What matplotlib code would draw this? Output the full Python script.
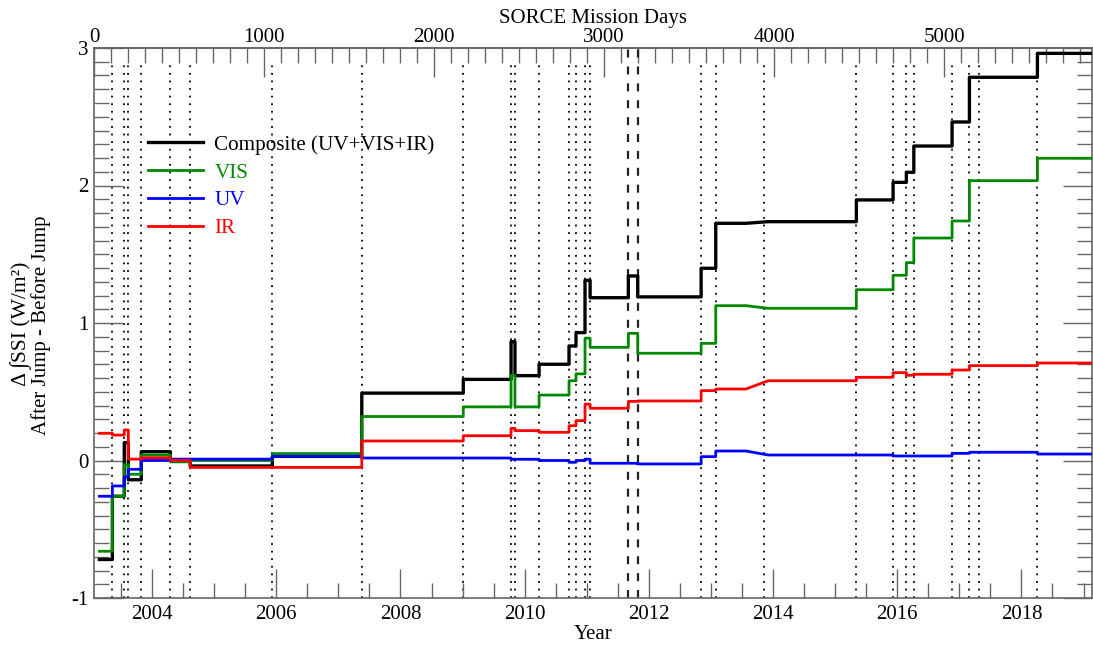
import numpy as np
import matplotlib
matplotlib.use("Agg")
import matplotlib.pyplot as plt
from matplotlib.ticker import MultipleLocator, FixedLocator

plt.rcParams['font.family'] = ['Liberation Serif', 'DejaVu Serif']
plt.rcParams['axes.unicode_minus'] = False

# SORCE mission day 0 expressed as a decimal year
day0_year = 2003.065

# days at which the series change (start of each plateau)
step_days = [32, 108, 178, 202, 278, 449, 566, 1049, 1575, 2172, 2453, 2476, 2618,
             2794, 2835, 2888, 2918, 3143, 3198, 3571, 3657, 3943, 4484, 4700, 4778,
             4822, 5047, 5149, 5204, 5549]
end_day = 5880
# a few changes are gradual rather than sudden: (start, end) of the ramp
ramp_days = {3943: (3835, 3965)}

composite = [-0.72, -0.26, 0.13, -0.14, 0.064, 0.0, -0.04, 0.03, 0.49, 0.59, 0.864, 0.617,
             0.70, 0.833, 0.93, 1.31, 1.184, 1.342, 1.19, 1.398, 1.725, 1.737, 1.895,
             2.023, 2.096, 2.287, 2.462, 2.787, 2.787, 2.961]
vis = [-0.66, -0.26, -0.03, -0.10, 0.04, -0.01, 0.0, 0.05, 0.32, 0.39, 0.62, 0.39,
       0.476, 0.58, 0.63, 0.89, 0.823, 0.925, 0.78, 0.852, 1.126, 1.107, 1.242,
       1.347, 1.439, 1.618, 1.742, 2.035, 2.035, 2.198]
uv = [-0.26, -0.185, -0.12, -0.064, 0.0, 0.01, 0.01, 0.03, 0.018, 0.018, 0.009, 0.009,
      0.0, -0.013, 0.0, 0.01, -0.02, -0.02, -0.025, 0.028, 0.069, 0.04, 0.04,
      0.033, 0.033, 0.033, 0.052, 0.06, 0.06, 0.047]
ir = [0.198, 0.185, 0.222, 0.01, 0.02, 0.0, -0.05, -0.05, 0.142, 0.18, 0.234, 0.217,
      0.205, 0.253, 0.29, 0.41, 0.38, 0.43, 0.433, 0.508, 0.52, 0.58, 0.605,
      0.639, 0.62, 0.627, 0.658, 0.69, 0.69, 0.709]

# instrument events shown as vertical lines
dotted_days = [108, 178, 202, 278, 449, 566, 1049, 1575, 2172, 2453, 2476, 2618, 2794,
               2835, 2888, 2918, 3571, 3657, 3943, 4484, 4700, 4778, 4822, 5047, 5149,
               5204, 5549]
dashed_days = [3143, 3198]

mission_ticks = [0, 1000, 2000, 3000, 4000, 5000]


def to_year(d):
    return day0_year + np.asarray(d, dtype=float) / 365.25


def to_day(y):
    return (np.asarray(y, dtype=float) - day0_year) * 365.25


def step_path(days, vals):
    xs, ys = [days[0]], [vals[0]]
    for d, v in zip(days[1:], vals[1:]):
        a, b = ramp_days.get(d, (d, d))
        xs += [a, b]
        ys += [ys[-1], v]
    xs.append(end_day)
    ys.append(vals[-1])
    return to_year(xs), ys


fig = plt.figure(figsize=(10.93, 6.46), dpi=100)
ax = fig.add_axes([94 / 1093, 48 / 646, 998 / 1093, 550 / 646])

for d in dotted_days:
    ax.plot([to_year(d)] * 2, [-1, 2.9], color='black', lw=1.3,
            linestyle=(0, (1, 3.2)), zorder=1)
for d in dashed_days:
    ax.plot([to_year(d)] * 2, [-1, 3], color='#222222', lw=1.6,
            linestyle=(0, (3.6, 4.0)), zorder=1)

series = [("Composite (UV+VIS+IR)", composite, 'black', 2.4),
          ("VIS", vis, '#008800', 2.0),
          ("UV", uv, '#0000ff', 2.0),
          ("IR", ir, '#ff0000', 2.0)]
for name, vals, col, lw in series:
    x, y = step_path(step_days, vals)
    ax.plot(x, y, color=col, lw=lw, label=name, zorder=3)

ax.set_xlim(day0_year, to_year(5870))
ax.set_ylim(-1, 3)

ax.xaxis.set_major_locator(MultipleLocator(2))
ax.xaxis.set_minor_locator(MultipleLocator(0.5))
ax.yaxis.set_major_locator(MultipleLocator(1))
ax.yaxis.set_minor_locator(MultipleLocator(0.1))
ax.tick_params(which='both', direction='in', color='#666666', width=1.0,
               labelsize=15, bottom=True, top=False, left=True, right=True,
               labelright=False)
ax.tick_params(which='major', length=21)
ax.tick_params(which='minor', length=10.5)
ax.tick_params(axis='x', pad=5)
ax.tick_params(axis='y', pad=4)
for sp in ax.spines.values():
    sp.set_color('#666666')
    sp.set_linewidth(1.2)

ax.set_xlabel("Year", fontsize=15, labelpad=1)

top = ax.secondary_xaxis('top', functions=(to_day, to_year))
top.xaxis.set_major_locator(FixedLocator(mission_ticks))
top.xaxis.set_minor_locator(MultipleLocator(100))
top.tick_params(which='both', direction='in', color='#666666', width=1.0,
                labelsize=15, pad=1)
top.tick_params(which='major', length=21)
top.tick_params(which='minor', length=10.5)
top.spines['top'].set_color('#666666')
top.spines['top'].set_linewidth(1.2)
top.set_xlabel("SORCE Mission Days", fontsize=15, labelpad=3)

fig.text(21 / 1093, 1 - 324 / 646, "Δ ∫SSI (W/m²)", rotation=90,
         ha='center', va='center', fontsize=15.5)
fig.text(41 / 1093, 1 - 325 / 646, "After Jump - Before Jump", rotation=90,
         ha='center', va='center', fontsize=15)

ax.legend(loc='upper left', bbox_to_anchor=(148 / 1093, 1 - 135 / 646),
          bbox_transform=fig.transFigure, frameon=False, fontsize=15.2,
          labelcolor='linecolor', handlelength=2.6, handletextpad=0.55,
          labelspacing=0.38, borderpad=0, borderaxespad=0)

fig.savefig("out.png", dpi=100)
